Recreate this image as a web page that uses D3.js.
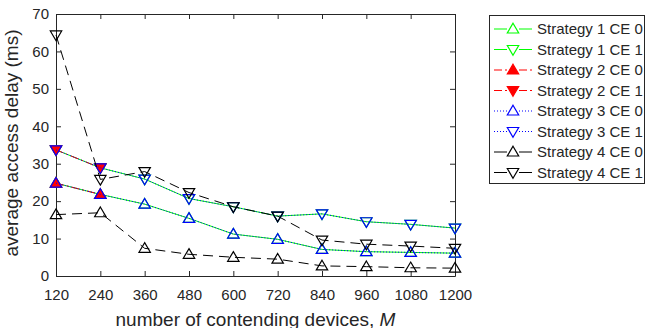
<!DOCTYPE html>
<html lang="en">
<head>
  <meta charset="UTF-8">
  <title>Average access delay</title>
  <style>
    body { margin: 0; background: #fff; }
    svg text { font-family: "Liberation Sans", Arial, sans-serif; fill: #262626; }
  </style>
</head>
<body>
  <svg class="chart"></svg>
  <script src="https://cdn.jsdelivr.net/npm/d3@7"></script>
  <script>
    var w = 646, h = 328;
    var margin = {left: 56, right: 191, top: 14, bottom: 52};

    var devices = [120, 240, 360, 480, 600, 720, 840, 960, 1080, 1200];
    var yTicks = [0, 10, 20, 30, 40, 50, 60, 70];

    var s1ce0 = [24.8, 21.8, 19.2, 15.4, 11.2, 9.8, 7.1, 6.5, 6.3, 6.1];
    var s1ce1 = [33.7, 28.9, 25.9, 20.7, 18.5, 16.0, 16.6, 14.5, 13.8, 12.8];
    var s2ce0 = [24.8, 21.8];
    var s2ce1 = [33.7, 28.9];
    var s3ce0 = [24.8, 21.8, 19.2, 15.4, 11.2, 9.8, 7.1, 6.5, 6.3, 6.1];
    var s3ce1 = [33.7, 28.9, 25.9, 20.7, 18.5, 16.0, 16.6, 14.5, 13.8, 12.8];
    var s4ce0 = [16.4, 16.9, 7.4, 5.8, 5.0, 4.5, 2.7, 2.5, 2.2, 2.1];
    var s4ce1 = [64.4, 25.8, 27.9, 22.3, 18.5, 16.0, 9.6, 8.5, 8.0, 7.4];

    var series = [
      {name: "Strategy 1 CE 0", vals: s1ce0, color: "#00ff00", dash: null, up: true, fill: "none"},
      {name: "Strategy 1 CE 1", vals: s1ce1, color: "#00ff00", dash: null, up: false, fill: "none"},
      {name: "Strategy 2 CE 0", vals: s2ce0, color: "#ff0000", dash: "8,3,2,3", up: true, fill: "#ff0000"},
      {name: "Strategy 2 CE 1", vals: s2ce1, color: "#ff0000", dash: "8,3,2,3", up: false, fill: "#ff0000"},
      {name: "Strategy 3 CE 0", vals: s3ce0, color: "#0000ff", dash: "1,2", up: true, fill: "none"},
      {name: "Strategy 3 CE 1", vals: s3ce1, color: "#0000ff", dash: "1,2", up: false, fill: "none"},
      {name: "Strategy 4 CE 0", vals: s4ce0, color: "#000000", dash: "10,6", up: true, fill: "none"},
      {name: "Strategy 4 CE 1", vals: s4ce1, color: "#000000", dash: "10,6", up: false, fill: "none"}
    ];

    var svg = d3.select(".chart").attr("width", w).attr("height", h);

    var x = d3.scaleLinear().domain([120, 1200]).range([margin.left, w - margin.right]);
    var y = d3.scaleLinear().domain([0, 70]).range([h - margin.bottom, margin.top]);

    // axes with inward ticks, box on
    var xAxis = d3.axisBottom(x).tickValues(devices).tickFormat(d3.format("d"))
      .tickSizeInner(-5).tickSizeOuter(0).tickPadding(19);
    var yAxis = d3.axisLeft(y).tickValues(yTicks).tickSizeInner(-5).tickSizeOuter(0).tickPadding(7);

    var gx = svg.append("g").attr("transform", "translate(0," + y(0) + ")").call(xAxis);
    var gy = svg.append("g").attr("transform", "translate(" + x(120) + ",0)").call(yAxis);
    svg.append("g").attr("transform", "translate(0," + y(70) + ")")
      .call(d3.axisTop(x).tickValues(devices).tickSizeInner(-5).tickSizeOuter(0).tickFormat(""));
    svg.append("g").attr("transform", "translate(" + x(1200) + ",0)")
      .call(d3.axisRight(y).tickValues(yTicks).tickSizeInner(-5).tickSizeOuter(0).tickFormat(""));

    svg.selectAll(".domain").attr("stroke", "#262626");
    svg.selectAll(".tick line").attr("stroke", "#262626");
    svg.selectAll(".tick text").style("font-size", "15px").attr("fill", "#262626");
    gx.selectAll(".tick text").attr("dy", "0.35em");

    // axis titles (the x title is cut at the bottom edge, as in the original)
    svg.append("text")
      .attr("x", (x(120) + x(1200)) / 2).attr("y", 326)
      .attr("text-anchor", "middle").style("font-size", "19px")
      .html('number of contending devices, <tspan font-style="italic">M</tspan>');
    svg.append("text")
      .attr("transform", "translate(18,143) rotate(-90)")
      .attr("text-anchor", "middle").style("font-size", "19px")
      .text("average access delay (ms)");

    function tri(up, cx, cy) {
      var r = 5.7;
      if (up) return "M" + cx + "," + (cy - r) + "L" + (cx + r) + "," + (cy + r * 0.7) + "L" + (cx - r) + "," + (cy + r * 0.7) + "Z";
      return "M" + cx + "," + (cy + r) + "L" + (cx + r) + "," + (cy - r * 0.7) + "L" + (cx - r) + "," + (cy - r * 0.7) + "Z";
    }

    var line = d3.line().x(function(d, i) { return x(devices[i]); }).y(function(d) { return y(d); });

    var plot = svg.append("g");
    series.forEach(function(s) {
      var g = plot.append("g");
      g.append("path")
        .attr("d", line(s.vals))
        .attr("fill", "none")
        .attr("stroke", s.color)
        .attr("stroke-width", 1)
        .attr("stroke-dasharray", s.dash);
      g.selectAll("path.m")
        .data(s.vals)
        .enter()
        .append("path")
        .attr("class", "m")
        .attr("d", function(d, i) { return tri(s.up, x(devices[i]), y(d)); })
        .attr("fill", s.fill)
        .attr("stroke", s.color)
        .attr("stroke-width", 1.2);
    });

    // legend
    var lg = svg.append("g");
    lg.append("rect")
      .attr("x", 489.5).attr("y", 15.5).attr("width", 155).attr("height", 168)
      .attr("fill", "#fff").attr("stroke", "#262626").attr("stroke-width", 1);
    series.forEach(function(s, i) {
      var ly = 29 + i * 20.5;
      // line sample, in two halves around the marker
      [[494, 507], [519, 532]].forEach(function(seg) {
        lg.append("line")
          .attr("x1", seg[0]).attr("x2", seg[1]).attr("y1", ly).attr("y2", ly)
          .attr("stroke", s.color)
          .attr("stroke-dasharray", s.dash === "10,6" ? null : s.dash);
      });
      lg.append("path")
        .attr("d", tri(s.up, 513, ly))
        .attr("fill", s.fill).attr("stroke", s.color).attr("stroke-width", 1.2);
      lg.append("text")
        .attr("x", 537).attr("y", ly).attr("dy", "0.35em")
        .style("font-size", "15px")
        .text(s.name);
    });
  </script>
</body>
</html>
